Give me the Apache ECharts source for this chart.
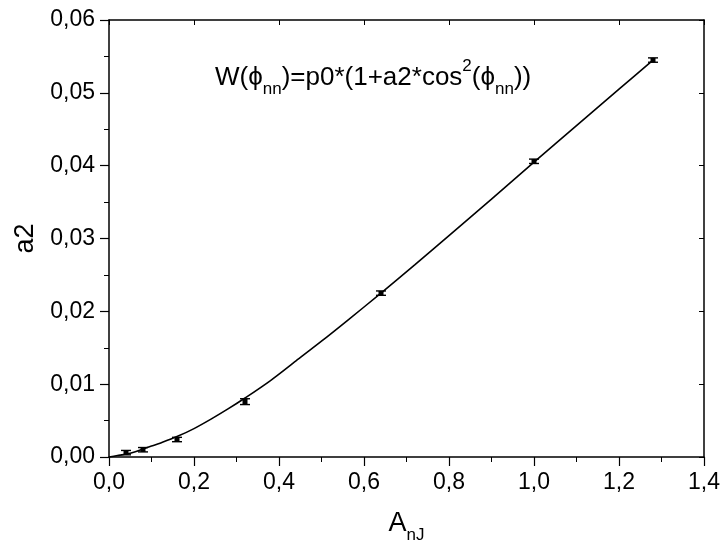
<!DOCTYPE html>
<html>
<head>
<meta charset="utf-8">
<script src="https://cdn.jsdelivr.net/npm/echarts@6/dist/echarts.min.js"></script>
<style>
html,body{margin:0;padding:0;background:#fff;}
#chart{width:723px;height:549px;}
</style>
</head>
<body>
<div id="chart"></div>
<script>
// Measured points
var pointX = [0.04, 0.08, 0.16, 0.32, 0.64, 1.00, 1.28];
var pointY = [0.0006, 0.0010, 0.0024, 0.0076, 0.0225, 0.0406, 0.0545];
var pointErr = [0.0003, 0.0003, 0.0003, 0.0004, 0.0003, 0.0003, 0.0003];

// Fit curve
var fitX = [0, 0.02, 0.04, 0.06, 0.08, 0.10, 0.12, 0.16, 0.20, 0.24, 0.28, 0.32, 0.38, 0.44, 0.50, 0.56, 0.64, 0.72, 0.80, 0.90, 1.00, 1.10, 1.20, 1.28];
var fitY = [0, 0.0002, 0.0004, 0.0007, 0.0011, 0.0015, 0.0019, 0.0028, 0.0039, 0.0052, 0.0066, 0.0081, 0.0105, 0.0132, 0.0159, 0.0187, 0.0225, 0.0264, 0.0304, 0.0354, 0.0405, 0.0455, 0.0505, 0.0545];

var xTicks = {min: 0, max: 1.4, interval: 0.2};
var yTicks = {min: 0, max: 0.06, interval: 0.01};

var FONT = 'Liberation Sans, Arial, sans-serif';

var errData = pointX.map(function (x, i) { return [x, pointY[i], pointErr[i]]; });
var fitData = fitX.map(function (x, i) { return [x, fitY[i]]; });

var chart = echarts.init(document.getElementById('chart'), null, {renderer: 'canvas'});

var axisCommon = {
  type: 'value',
  axisLine: {show: true, onZero: false, lineStyle: {color: '#000', width: 1.5}},
  splitLine: {show: false},
  minorTick: {show: true, splitNumber: 2, length: 5, lineStyle: {color: '#000', width: 1}}
};

chart.setOption({
  animation: false,
  backgroundColor: '#fff',
  grid: {left: 109, right: 19, top: 20, bottom: 92, containLabel: false},
  xAxis: [
    Object.assign({}, axisCommon, {
      min: xTicks.min, max: xTicks.max, interval: xTicks.interval,
      position: 'bottom',
      axisTick: {show: true, inside: false, length: 9, lineStyle: {color: '#000', width: 1.2}},
      axisLabel: {color: '#000', fontFamily: FONT, fontSize: 23, margin: 14,
        formatter: function (v) { return v.toFixed(1).replace('.', ','); }},
      name: '{m|A}{s|nJ}',
      nameLocation: 'middle',
      nameGap: 47,
      nameTextStyle: {
        rich: {
          m: {fontFamily: FONT, fontSize: 27, color: '#000', lineHeight: 40, verticalAlign: 'middle'},
          s: {fontFamily: FONT, fontSize: 17, color: '#000', lineHeight: 17, verticalAlign: 'bottom'}
        }
      }
    }),
    Object.assign({}, axisCommon, {
      min: xTicks.min, max: xTicks.max, interval: xTicks.interval,
      position: 'top',
      axisTick: {show: true, inside: true, length: 5, lineStyle: {color: '#000', width: 1}},
      minorTick: {show: false},
      axisLabel: {show: false}
    })
  ],
  yAxis: [
    Object.assign({}, axisCommon, {
      min: yTicks.min, max: yTicks.max, interval: yTicks.interval,
      position: 'left',
      axisTick: {show: true, inside: false, length: 9, lineStyle: {color: '#000', width: 1.2}},
      axisLabel: {color: '#000', fontFamily: FONT, fontSize: 23, margin: 14,
        formatter: function (v) { return v.toFixed(2).replace('.', ','); }},
      name: 'a2',
      nameLocation: 'middle',
      nameGap: 67,
      nameRotate: 90,
      nameTextStyle: {fontFamily: FONT, fontSize: 27, color: '#000'}
    }),
    Object.assign({}, axisCommon, {
      min: yTicks.min, max: yTicks.max, interval: yTicks.interval,
      position: 'right',
      axisTick: {show: true, inside: true, length: 5, lineStyle: {color: '#000', width: 1}},
      minorTick: {show: false},
      axisLabel: {show: false}
    })
  ],
  series: [
    {
      type: 'line',
      data: fitData,
      xAxisIndex: 0, yAxisIndex: 0,
      showSymbol: false,
      smooth: 0.3,
      lineStyle: {color: '#000', width: 1.6},
      z: 2
    },
    {
      type: 'custom',
      xAxisIndex: 0, yAxisIndex: 0,
      data: errData,
      z: 3,
      renderItem: function (params, api) {
        var x = api.value(0), y = api.value(1), e = api.value(2);
        var top = api.coord([x, y + e]);
        var bot = api.coord([x, y - e]);
        var hw = 5;
        var st = {stroke: '#000', lineWidth: 1.4};
        return {
          type: 'group',
          children: [
            {type: 'line', shape: {x1: top[0], y1: top[1], x2: bot[0], y2: bot[1]}, style: st},
            {type: 'line', shape: {x1: top[0] - hw, y1: top[1], x2: top[0] + hw, y2: top[1]}, style: st},
            {type: 'line', shape: {x1: bot[0] - hw, y1: bot[1], x2: bot[0] + hw, y2: bot[1]}, style: st},
            {type: 'rect', shape: {x: top[0] - 2.5, y: top[1], width: 5, height: bot[1] - top[1]}, style: {fill: '#000'}}
          ]
        };
      }
    }
  ],
  graphic: [
    {
      type: 'text',
      left: 215,
      top: 58,
      style: {
        text: '{m|W(ϕ}{s|nn}{m|)=p0*(1+a2*cos}{p|2}{m|(ϕ}{s|nn}{m|))}',
        rich: {
          m: {fontFamily: FONT, fontSize: 26, fill: '#000', lineHeight: 40, verticalAlign: 'middle'},
          s: {fontFamily: FONT, fontSize: 17, fill: '#000', lineHeight: 17, verticalAlign: 'bottom'},
          p: {fontFamily: FONT, fontSize: 17, fill: '#000', lineHeight: 17, verticalAlign: 'top'}
        }
      }
    }
  ]
});
</script>
</body>
</html>
